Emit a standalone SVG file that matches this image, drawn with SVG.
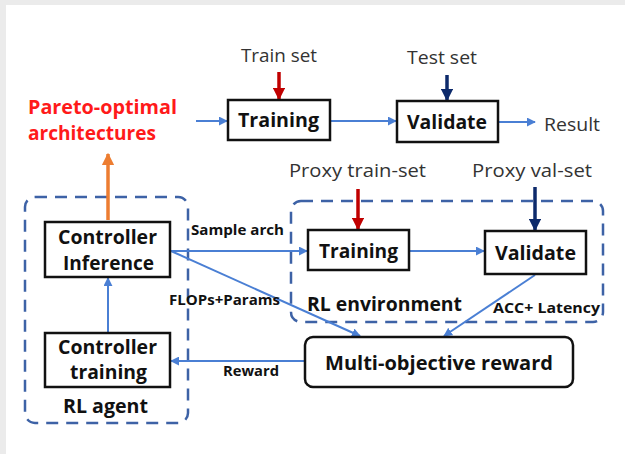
<svg xmlns="http://www.w3.org/2000/svg" width="625" height="454" viewBox="0 0 625 454">
<defs>
<style>
.box{fill:#fff;stroke:#111;stroke-width:2.5}
.dash{fill:none;stroke:#3d62a6;stroke-width:2.5;stroke-dasharray:12 8}
.con{fill:none;stroke:#4a7fd4;stroke-width:2}
text{font-family:"Open Sans","Liberation Sans",sans-serif}
.t{fill:#333}
.b{font-weight:bold;fill:#111}
.p{font-weight:bold;fill:#ff1a1a}
</style>
<marker id="ab" viewBox="0 0 10 10" refX="9" refY="5" markerWidth="4.5" markerHeight="4.5" orient="auto"><path d="M0,0L10,5L0,10z" fill="#4a7fd4"/></marker>
<marker id="ar" viewBox="0 0 10 10" refX="9" refY="5" markerWidth="3.5" markerHeight="3.5" orient="auto"><path d="M0,0L10,5L0,10z" fill="#c00000"/></marker>
<marker id="an" viewBox="0 0 10 10" refX="9" refY="5" markerWidth="3.5" markerHeight="3.5" orient="auto"><path d="M0,0L10,5L0,10z" fill="#0d2a6b"/></marker>
<marker id="ao" viewBox="0 0 10 10" refX="9" refY="5" markerWidth="3.5" markerHeight="3.5" orient="auto"><path d="M0,0L10,5L0,10z" fill="#ed7d31"/></marker>
</defs>
<rect x="0" y="0" width="625" height="454" fill="#ebebeb"/>
<rect x="6" y="5" width="619" height="449" fill="#fff"/>

<g id="groups">
<rect class="dash" x="25" y="197" width="163" height="226" rx="10"/>
<rect class="dash" x="291" y="201" width="312" height="121" rx="10"/>
</g>

<g id="connectors">
<line class="con" x1="196" y1="121" x2="227" y2="121" marker-end="url(#ab)"/>
<line class="con" x1="331" y1="121" x2="396" y2="121" marker-end="url(#ab)"/>
<line class="con" x1="499" y1="122" x2="535" y2="122" marker-end="url(#ab)"/>
<line x1="279" y1="72" x2="279" y2="99" stroke="#c00000" stroke-width="3.5" marker-end="url(#ar)"/>
<line x1="447" y1="75" x2="447" y2="100" stroke="#0d2a6b" stroke-width="3.5" marker-end="url(#an)"/>
<line x1="108" y1="220" x2="108" y2="154" stroke="#ed7d31" stroke-width="3.5" marker-end="url(#ao)"/>
<line class="con" x1="108" y1="333" x2="108" y2="278" marker-end="url(#ab)"/>
<line class="con" x1="171" y1="251" x2="307" y2="251" marker-end="url(#ab)"/>
<line class="con" x1="171" y1="251" x2="360" y2="336" marker-end="url(#ab)"/>
<line x1="358" y1="189" x2="358" y2="229" stroke="#c00000" stroke-width="3.5" marker-end="url(#ar)"/>
<line x1="535" y1="187" x2="535" y2="230" stroke="#0d2a6b" stroke-width="3.5" marker-end="url(#an)"/>
<line class="con" x1="410" y1="251" x2="484" y2="251" marker-end="url(#ab)"/>
<line class="con" x1="535" y1="275" x2="444" y2="336" marker-end="url(#ab)"/>
<line class="con" x1="304" y1="361" x2="171" y2="361" marker-end="url(#ab)"/>
</g>

<g id="labels">
<text class="t" x="241" y="62" font-size="19" textLength="76" lengthAdjust="spacingAndGlyphs">Train set</text>
<text class="t" x="407" y="64" font-size="19" textLength="70" lengthAdjust="spacingAndGlyphs">Test set</text>
<text class="t" x="544" y="131" font-size="19" textLength="56" lengthAdjust="spacingAndGlyphs">Result</text>
<text class="p" x="28" y="114" font-size="19" textLength="149" lengthAdjust="spacingAndGlyphs">Pareto-optimal</text>
<text class="p" x="28" y="140" font-size="19" textLength="128" lengthAdjust="spacingAndGlyphs">architectures</text>
<text class="t" x="289" y="177" font-size="19" textLength="137" lengthAdjust="spacingAndGlyphs">Proxy train-set</text>
<text class="t" x="472" y="177" font-size="19" textLength="120" lengthAdjust="spacingAndGlyphs">Proxy val-set</text>
<text class="b" x="191" y="235" font-size="14" textLength="93" lengthAdjust="spacingAndGlyphs">Sample arch</text>
<text class="b" x="169" y="305" font-size="14" textLength="111" lengthAdjust="spacingAndGlyphs">FLOPs+Params</text>
<text class="b" x="307" y="311" font-size="20" textLength="155" lengthAdjust="spacingAndGlyphs">RL environment</text>
<text class="b" x="493" y="313" font-size="14" textLength="107" lengthAdjust="spacingAndGlyphs">ACC+ Latency</text>
<text class="b" x="223" y="376" font-size="14" textLength="56" lengthAdjust="spacingAndGlyphs">Reward</text>
<text class="b" x="63" y="413" font-size="20" textLength="85" lengthAdjust="spacingAndGlyphs">RL agent</text>
</g>

<g id="n-train-top">
<rect class="box" x="228" y="100" width="102" height="40"/>
<text class="b" x="238" y="127" font-size="19" textLength="81" lengthAdjust="spacingAndGlyphs">Training</text>
</g>
<g id="n-validate-top">
<rect class="box" x="397" y="101" width="101" height="41"/>
<text class="b" x="407" y="129" font-size="19" textLength="80" lengthAdjust="spacingAndGlyphs">Validate</text>
</g>
<g id="n-ctrl-inf">
<rect class="box" x="45" y="222" width="125" height="55"/>
<text class="b" x="58" y="244" font-size="19" textLength="99" lengthAdjust="spacingAndGlyphs">Controller</text>
<text class="b" x="63" y="270" font-size="19" textLength="91" lengthAdjust="spacingAndGlyphs">Inference</text>
</g>
<g id="n-ctrl-train">
<rect class="box" x="45" y="333" width="125" height="54"/>
<text class="b" x="58" y="354" font-size="19" textLength="99" lengthAdjust="spacingAndGlyphs">Controller</text>
<text class="b" x="70" y="379" font-size="19" textLength="77" lengthAdjust="spacingAndGlyphs">training</text>
</g>
<g id="n-train-proxy">
<rect class="box" x="308" y="230" width="101" height="40"/>
<text class="b" x="319" y="258" font-size="19" textLength="79" lengthAdjust="spacingAndGlyphs">Training</text>
</g>
<g id="n-validate-proxy">
<rect class="box" x="485" y="231" width="101" height="43"/>
<text class="b" x="495" y="260" font-size="19" textLength="81" lengthAdjust="spacingAndGlyphs">Validate</text>
</g>
<g id="n-reward">
<rect class="box" x="305" y="337" width="268" height="50" rx="8"/>
<text class="b" x="325" y="370" font-size="19" textLength="228" lengthAdjust="spacingAndGlyphs">Multi-objective reward</text>
</g>
</svg>
